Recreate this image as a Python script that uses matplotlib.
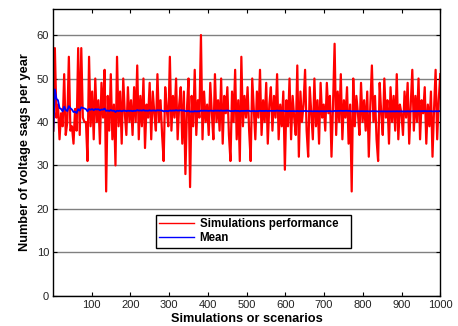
import numpy as np
import matplotlib
matplotlib.use("Agg")
import matplotlib.pyplot as plt

# voltage sags per year (one value roughly every 4 simulations)
sags = [
    38, 57, 41, 44, 36, 42, 39, 51, 37, 40, 55, 38, 39, 35, 43, 38, 57, 37, 57, 41, 40, 40, 31, 55, 39,
    47, 36, 50, 40, 45, 35, 49, 41, 52, 24, 46, 38, 51, 36, 44, 30, 55, 39, 47, 35, 50, 42, 37, 48, 40,
    45, 37, 48, 40, 53, 36, 46, 39, 50, 34, 44, 41, 49, 36, 47, 42, 38, 51, 40, 45, 37, 31, 48, 43, 39,
    55, 38, 46, 41, 50, 36, 44, 48, 35, 47, 28, 43, 50, 25, 46, 39, 52, 37, 45, 41, 60, 36, 47, 40, 44,
    37, 49, 42, 36, 51, 40, 45, 38, 50, 35, 46, 42, 48, 37, 31, 47, 40, 52, 36, 45, 31, 55, 39, 46, 41,
    48, 38, 31, 50, 43, 36, 47, 41, 52, 37, 45, 40, 49, 35, 44, 48, 38, 46, 41, 51, 36, 44, 39, 47, 29,
    45, 39, 50, 36, 46, 41, 37, 53, 32, 47, 40, 44, 52, 38, 32, 48, 42, 36, 50, 39, 45, 35, 49, 41, 44,
    38, 49, 42, 46, 32, 44, 58, 37, 47, 40, 51, 36, 45, 41, 48, 35, 44, 24, 50, 39, 46, 42, 37, 49, 40,
    45, 38, 47, 32, 44, 53, 40, 46, 36, 31, 49, 42, 37, 50, 41, 45, 35, 48, 40, 46, 38, 51, 36, 44, 42,
    37, 47, 41, 49, 35, 44, 52, 38, 46, 40, 50, 36, 45, 42, 48, 35, 44, 39, 47, 32, 43, 52, 36, 45, 51,
]

x_first, x_last = 1, 1000
x_ticks = [100, 200, 300, 400, 500, 600, 700, 800, 900, 1000]
y_ticks = [0, 10, 20, 30, 40, 50, 60]

plt.rcParams['font.family'] = ['Liberation Sans', 'DejaVu Sans']

values = np.array(sags, dtype=float)
sims = np.linspace(x_first, x_last, len(values))
running_mean = np.cumsum(values) / np.arange(1, len(values) + 1)

fig = plt.figure(figsize=(4.58, 3.26), dpi=100)
ax = fig.add_axes([0.1164, 0.0929, 0.8449, 0.8795])

ax.plot(sims, values, color='#ff0000', linewidth=1.6, label='Simulations performance')
ax.plot(sims, running_mean, color='#0000ff', linewidth=1.3, label='Mean')

ax.set_xlim(x_first, x_last)
ax.set_ylim(0, 66)
ax.set_xticks(x_ticks)
ax.set_yticks(y_ticks)
ax.yaxis.grid(True, color='#808080', linewidth=1.0)
ax.set_axisbelow(True)

ax.tick_params(direction='in', top=True, right=True, length=3, width=0.8,
               labelsize=8, colors='black', labelcolor='#222222', pad=3)
for sp in ax.spines.values():
    sp.set_linewidth(1.0)
    sp.set_color('black')

ax.set_xlabel('Simulations or scenarios', fontsize=9.2, fontweight='bold', labelpad=2)
ax.set_ylabel('Number of voltage sags per year', fontsize=9.2, fontweight='bold', labelpad=4)

leg = ax.legend(loc='lower left', bbox_to_anchor=(0.265, 0.167, 0.505, 0.124), mode='expand',
                borderaxespad=0, fancybox=False, framealpha=1, edgecolor='black',
                prop={'size': 8.3, 'weight': 'bold'}, handlelength=3.0, labelspacing=0.2,
                borderpad=0.3, handletextpad=0.5)
leg.get_frame().set_linewidth(1.0)
# legend samples are drawn thin, as in the original
for h in leg.legend_handles:
    h.set_linewidth(1.0)

fig.savefig('out.png', dpi=100)
